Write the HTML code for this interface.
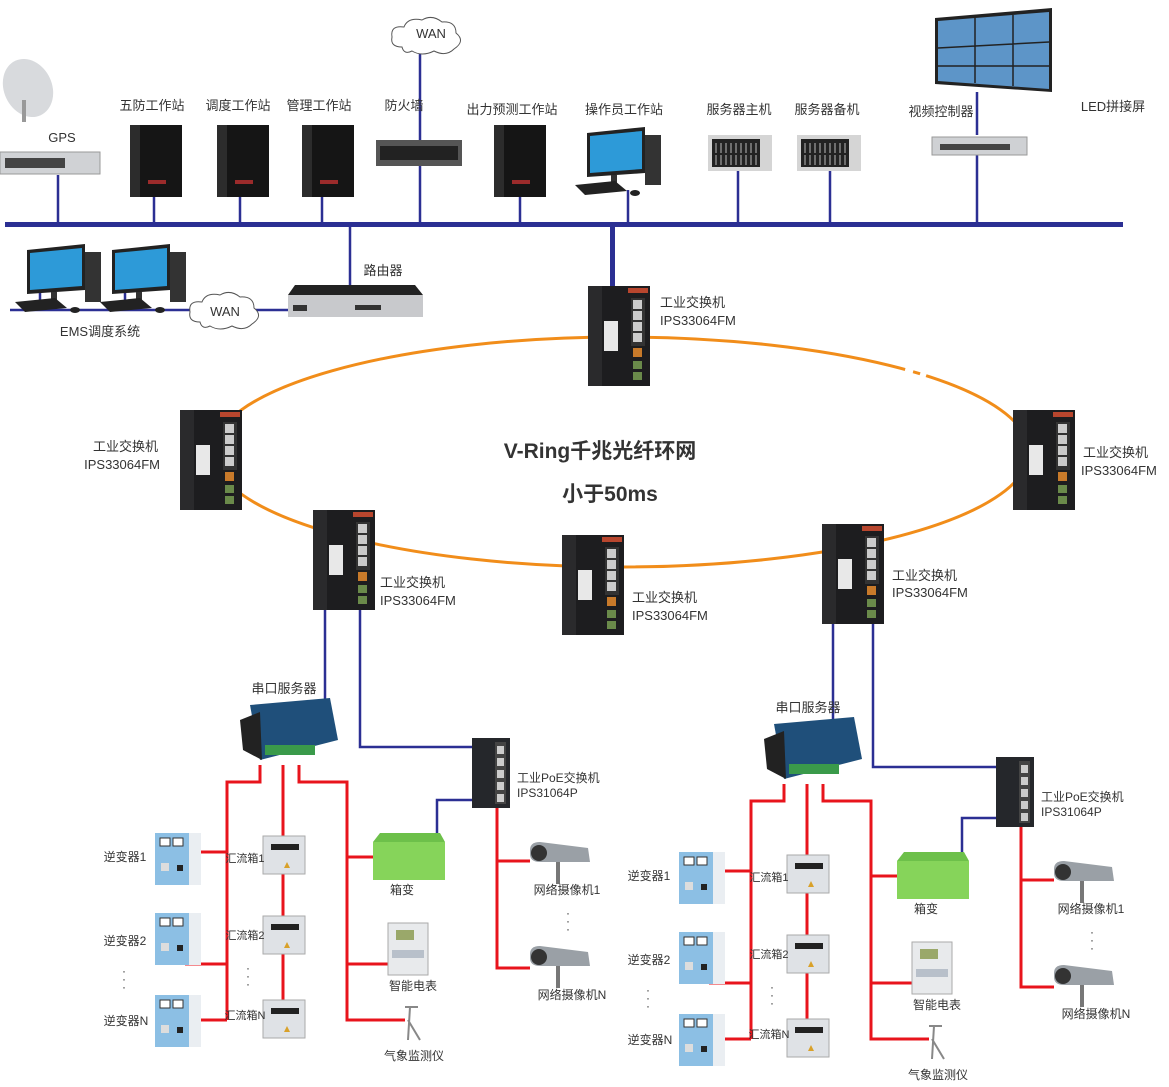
<!DOCTYPE html>
<html><head><meta charset="utf-8"><style>
html,body{margin:0;padding:0;background:#fff;}
svg{display:block;}
text{font-family:"Liberation Sans","Noto Sans CJK SC",sans-serif;font-size:13px;fill:#333;}
.c text{font-size:12px;}
.c text.s{font-size:11px;}
text.big{font-size:21px;font-weight:bold;}
</style></head><body>
<svg width="1169" height="1087" viewBox="0 0 1169 1087" xmlns="http://www.w3.org/2000/svg">
<defs>
<g id="sw">
 <rect x="0" y="0" width="62" height="100" fill="#1d1d1f"/>
 <rect x="0" y="0" width="14" height="100" fill="#2a2a2c"/>
 <rect x="40" y="2" width="20" height="5" fill="#b8462e"/>
 <rect x="43" y="12" width="14" height="48" fill="#333"/>
 <rect x="45" y="14" width="9" height="9" fill="#ccc"/><rect x="45" y="25" width="9" height="9" fill="#ccc"/>
 <rect x="45" y="36" width="9" height="9" fill="#ccc"/><rect x="45" y="47" width="9" height="9" fill="#ccc"/>
 <rect x="45" y="62" width="9" height="9" fill="#c87a2a"/>
 <rect x="45" y="75" width="9" height="8" fill="#6a8a4a"/><rect x="45" y="86" width="9" height="8" fill="#6a8a4a"/>
 <rect x="16" y="35" width="14" height="30" fill="#e8e8e8"/>
</g>
<g id="tower">
 <rect x="0" y="0" width="52" height="72" fill="#151515"/>
 <rect x="0" y="0" width="10" height="72" fill="#2c2c2c"/>
 <rect x="18" y="55" width="18" height="4" fill="#9b2b2b"/>
</g>
<g id="rack">
 <rect x="0" y="0" width="64" height="36" fill="#d5d5d5"/>
 <rect x="4" y="4" width="48" height="28" fill="#222"/>
 <g stroke="#888" stroke-width="1.5"><path d="M8 8v10M13 8v10M18 8v10M23 8v10M28 8v10M33 8v10M38 8v10M43 8v10M48 8v10M8 20v10M13 20v10M18 20v10M23 20v10M28 20v10M33 20v10M38 20v10M43 20v10M48 20v10"/></g>
</g>
<g id="pc">
 <path d="M12 0 L70 -6 L70 40 L12 44 Z" fill="#222"/>
 <path d="M15 3 L67 -2 L67 36 L15 40 Z" fill="#2d9ad8"/>
 <rect x="70" y="2" width="16" height="50" fill="#333"/>
 <rect x="36" y="42" width="6" height="8" fill="#333"/>
 <path d="M0 52 L40 48 L52 58 L10 62 Z" fill="#222"/>
 <ellipse cx="60" cy="60" rx="5" ry="3" fill="#222"/>
</g>
<g id="inv">
 <rect x="0" y="0" width="34" height="52" fill="#8cbfe4"/>
 <rect x="34" y="0" width="12" height="52" fill="#eaeef2"/>
 <rect x="5" y="5" width="10" height="8" fill="#fff" stroke="#333"/><rect x="18" y="5" width="10" height="8" fill="#fff" stroke="#333"/>
 <rect x="6" y="30" width="8" height="8" fill="#ddd"/><rect x="22" y="32" width="6" height="6" fill="#222"/>
</g>
<g id="cb">
 <rect x="0" y="0" width="42" height="38" fill="#dfe2e6"/>
 <rect x="0" y="0" width="42" height="38" fill="none" stroke="#aaa"/>
 <rect x="8" y="8" width="28" height="6" fill="#222"/>
 <path d="M24 26 l3 6 h-6 Z" fill="#d9a12a"/>
</g>
<g id="cam">
 <path d="M0 8 Q0 0 10 0 L58 6 L60 20 L10 20 Q0 20 0 12 Z" fill="#9aa0a6"/>
 <ellipse cx="9" cy="11" rx="8" ry="8" fill="#333"/>
 <rect x="26" y="20" width="4" height="22" fill="#777"/>
</g>
<g id="cloud">
 <path d="M12 30 Q0 30 2 20 Q0 8 14 10 Q18 0 32 3 Q42 -3 52 5 Q66 4 66 16 Q76 24 64 32 Q56 40 44 34 Q32 40 22 34 Q14 38 12 30 Z" fill="#fff" stroke="#555" stroke-width="1"/>
</g>
</defs>

<ellipse cx="621" cy="452" rx="408" ry="115" fill="none" stroke="#f18d1a" stroke-width="3"/>
<path d="M905 370 l8 2 M920 374 l6 2" stroke="#fff" stroke-width="5"/>

<rect x="5" y="222" width="1118" height="5" fill="#2b2f93"/>
<g stroke="#2b2f93" stroke-width="2.5" fill="none">
 <path d="M58 175V224M154 197V224M240 197V224M322 197V224M420 50V140M420 165V224M520 197V224M628 190V224M738 170V224M830 170V224M977 92V135M977 155V224"/>
 <path d="M350 224V290"/>
 <path d="M10 310H190M255 310H290M40 290V310M125 290V310"/>
 <path d="M325 610V702M360 610V747H473M437 850V800H473M833 622V728M873 622V767H997M962 870V818H997"/>
</g>
<rect x="610" y="224" width="5" height="66" fill="#2b2f93"/>

<g>
 <ellipse cx="28" cy="88" rx="24" ry="30" fill="#d8dadd" transform="rotate(-25 28 88)"/>
 <rect x="22" y="100" width="4" height="22" fill="#999"/>
 <rect x="0" y="152" width="100" height="22" fill="#d0d2d5" stroke="#999"/>
 <rect x="5" y="158" width="60" height="10" fill="#444"/>
 <text x="62" y="142" text-anchor="middle">GPS</text>
 <use href="#tower" x="130" y="125"/><text x="152" y="110" text-anchor="middle">五防工作站</text>
 <use href="#tower" x="217" y="125"/><text x="238" y="110" text-anchor="middle">调度工作站</text>
 <use href="#tower" x="302" y="125"/><text x="319" y="110" text-anchor="middle">管理工作站</text>
 <rect x="376" y="140" width="86" height="26" fill="#555"/><rect x="380" y="146" width="78" height="14" fill="#222"/>
 <text x="404" y="110" text-anchor="middle">防火墙</text>
 <use href="#cloud" x="390" y="17"/><text x="431" y="38" text-anchor="middle">WAN</text>
 <use href="#tower" x="494" y="125"/><text x="512" y="114" text-anchor="middle">出力预测工作站</text>
 <use href="#pc" x="575" y="133"/><text x="624" y="114" text-anchor="middle">操作员工作站</text>
 <use href="#rack" x="708" y="135"/><text x="739" y="114" text-anchor="middle">服务器主机</text>
 <use href="#rack" x="797" y="135"/><text x="827" y="114" text-anchor="middle">服务器备机</text>
 <rect x="932" y="137" width="95" height="18" fill="#cfd1d4" stroke="#999"/><rect x="940" y="144" width="70" height="6" fill="#444"/>
 <text x="941" y="116" text-anchor="middle">视频控制器</text>
 <path d="M935 18 L1052 8 L1052 92 L935 84 Z" fill="#222"/>
 <path d="M938 21 L1049 12 L1049 89 L938 81 Z" fill="#5d95c8"/>
 <path d="M975 18V83M1013 15V86M938 48L1049 42M938 66L1049 66" stroke="#222" stroke-width="1.5"/>
 <text x="1113" y="111" text-anchor="middle">LED拼接屏</text>
 <path d="M295 285 L415 285 L423 295 L288 295 Z" fill="#222"/>
 <rect x="288" y="295" width="135" height="22" fill="#c8c9cc"/>
 <rect x="293" y="305" width="14" height="6" fill="#333"/><rect x="355" y="305" width="26" height="5" fill="#333"/>
 <text x="383" y="275" text-anchor="middle">路由器</text>
 <use href="#pc" x="15" y="250"/><use href="#pc" x="100" y="250"/>
 <use href="#cloud" x="188" y="292"/><text x="225" y="316" text-anchor="middle">WAN</text>
 <text x="100" y="336" text-anchor="middle">EMS调度系统</text>
</g>

<use href="#sw" x="588" y="286"/>
<text x="660" y="307">工业交换机</text><text x="660" y="325">IPS33064FM</text>
<use href="#sw" x="180" y="410"/>
<text x="158" y="451" text-anchor="end">工业交换机</text><text x="160" y="469" text-anchor="end">IPS33064FM</text>
<use href="#sw" x="1013" y="410"/>
<text x="1083" y="457">工业交换机</text><text x="1081" y="475">IPS33064FM</text>
<use href="#sw" x="313" y="510"/>
<text x="380" y="587">工业交换机</text><text x="380" y="605">IPS33064FM</text>
<use href="#sw" x="562" y="535"/>
<text x="632" y="602">工业交换机</text><text x="632" y="620">IPS33064FM</text>
<use href="#sw" x="822" y="524"/>
<text x="892" y="580">工业交换机</text><text x="892" y="597">IPS33064FM</text>

<text class="big" x="600" y="458" text-anchor="middle">V-Ring千兆光纤环网</text>
<text class="big" x="610" y="501" text-anchor="middle">小于50ms</text>

<g class="c">
 <g stroke="#e8141c" stroke-width="3" fill="none">
  <path d="M260 765V782H227V1020M185 852H227M185 964H227M185 1020H227"/>
  <path d="M283 765V1000"/>
  <path d="M299 765V782H347V1020H405M347 857H375M347 964H390"/>
  <path d="M497 808V968H530M497 861H530"/>
 </g>
 <path d="M250 705 L330 698 L338 740 L260 760 Z" fill="#1f4f7a"/>
 <path d="M240 720 L260 712 L262 760 L243 750 Z" fill="#222"/>
 <rect x="265" y="745" width="50" height="10" fill="#3a9a4a"/>
 <text x="284" y="693" text-anchor="middle" style="font-size:13px">串口服务器</text>
 <rect x="472" y="738" width="38" height="70" fill="#25272b"/>
 <rect x="495" y="742" width="11" height="62" fill="#444"/>
 <rect x="497" y="746" width="7" height="8" fill="#ccc"/><rect x="497" y="758" width="7" height="8" fill="#ccc"/><rect x="497" y="770" width="7" height="8" fill="#ccc"/><rect x="497" y="782" width="7" height="8" fill="#ccc"/><rect x="497" y="794" width="7" height="8" fill="#ccc"/>
 <text x="517" y="782">工业PoE交换机</text><text x="517" y="797">IPS31064P</text>
 <use href="#inv" x="155" y="833"/><use href="#inv" x="155" y="913"/><use href="#inv" x="155" y="995"/>
 <text x="125" y="861" text-anchor="middle">逆变器1</text><text x="125" y="945" text-anchor="middle">逆变器2</text><text x="126" y="1025" text-anchor="middle">逆变器N</text>
 <text x="124" y="975" text-anchor="middle">·</text><text x="124" y="983" text-anchor="middle">·</text><text x="124" y="991" text-anchor="middle">·</text>
 <use href="#cb" x="263" y="836"/><use href="#cb" x="263" y="916"/><use href="#cb" x="263" y="1000"/>
 <text class="s" x="245" y="862" text-anchor="middle">汇流箱1</text><text class="s" x="245" y="939" text-anchor="middle">汇流箱2</text><text class="s" x="245" y="1019" text-anchor="middle">汇流箱N</text>
 <text x="248" y="972" text-anchor="middle">·</text><text x="248" y="980" text-anchor="middle">·</text><text x="248" y="988" text-anchor="middle">·</text>
 <path d="M373 842 L380 833 L440 833 L445 842 Z" fill="#6dc04a"/>
 <rect x="373" y="842" width="72" height="38" fill="#86d45a"/>
 <text x="402" y="894" text-anchor="middle">箱变</text>
 <rect x="388" y="923" width="40" height="52" fill="#e8eaec" stroke="#aaa"/>
 <rect x="396" y="930" width="18" height="10" fill="#9aa86a"/>
 <rect x="392" y="950" width="32" height="8" fill="#b8c0ca"/>
 <text x="413" y="990" text-anchor="middle">智能电表</text>
 <path d="M405 1007 L418 1007 M410 1007 L408 1040 M408 1020 L420 1040" stroke="#888" stroke-width="2" fill="none"/>
 <text x="414" y="1060" text-anchor="middle">气象监测仪</text>
 <use href="#cam" x="530" y="842"/><use href="#cam" x="530" y="946"/>
 <text x="567" y="894" text-anchor="middle">网络摄像机1</text>
 <text x="568" y="917" text-anchor="middle">·</text><text x="568" y="925" text-anchor="middle">·</text><text x="568" y="933" text-anchor="middle">·</text>
 <text x="572" y="999" text-anchor="middle">网络摄像机N</text>
</g>

<g class="c" transform="translate(524,19)">
 <g stroke="#e8141c" stroke-width="3" fill="none">
  <path d="M260 765V782H227V1020M185 852H227M185 964H227M185 1020H227"/>
  <path d="M283 765V1000"/>
  <path d="M299 765V782H347V1020H405M347 857H375M347 964H390"/>
  <path d="M497 808V968H530M497 861H530"/>
 </g>
 <path d="M250 705 L330 698 L338 740 L260 760 Z" fill="#1f4f7a"/>
 <path d="M240 720 L260 712 L262 760 L243 750 Z" fill="#222"/>
 <rect x="265" y="745" width="50" height="10" fill="#3a9a4a"/>
 <text x="284" y="693" text-anchor="middle" style="font-size:13px">串口服务器</text>
 <rect x="472" y="738" width="38" height="70" fill="#25272b"/>
 <rect x="495" y="742" width="11" height="62" fill="#444"/>
 <rect x="497" y="746" width="7" height="8" fill="#ccc"/><rect x="497" y="758" width="7" height="8" fill="#ccc"/><rect x="497" y="770" width="7" height="8" fill="#ccc"/><rect x="497" y="782" width="7" height="8" fill="#ccc"/><rect x="497" y="794" width="7" height="8" fill="#ccc"/>
 <text x="517" y="782">工业PoE交换机</text><text x="517" y="797">IPS31064P</text>
 <use href="#inv" x="155" y="833"/><use href="#inv" x="155" y="913"/><use href="#inv" x="155" y="995"/>
 <text x="125" y="861" text-anchor="middle">逆变器1</text><text x="125" y="945" text-anchor="middle">逆变器2</text><text x="126" y="1025" text-anchor="middle">逆变器N</text>
 <text x="124" y="975" text-anchor="middle">·</text><text x="124" y="983" text-anchor="middle">·</text><text x="124" y="991" text-anchor="middle">·</text>
 <use href="#cb" x="263" y="836"/><use href="#cb" x="263" y="916"/><use href="#cb" x="263" y="1000"/>
 <text class="s" x="245" y="862" text-anchor="middle">汇流箱1</text><text class="s" x="245" y="939" text-anchor="middle">汇流箱2</text><text class="s" x="245" y="1019" text-anchor="middle">汇流箱N</text>
 <text x="248" y="972" text-anchor="middle">·</text><text x="248" y="980" text-anchor="middle">·</text><text x="248" y="988" text-anchor="middle">·</text>
 <path d="M373 842 L380 833 L440 833 L445 842 Z" fill="#6dc04a"/>
 <rect x="373" y="842" width="72" height="38" fill="#86d45a"/>
 <text x="402" y="894" text-anchor="middle">箱变</text>
 <rect x="388" y="923" width="40" height="52" fill="#e8eaec" stroke="#aaa"/>
 <rect x="396" y="930" width="18" height="10" fill="#9aa86a"/>
 <rect x="392" y="950" width="32" height="8" fill="#b8c0ca"/>
 <text x="413" y="990" text-anchor="middle">智能电表</text>
 <path d="M405 1007 L418 1007 M410 1007 L408 1040 M408 1020 L420 1040" stroke="#888" stroke-width="2" fill="none"/>
 <text x="414" y="1060" text-anchor="middle">气象监测仪</text>
 <use href="#cam" x="530" y="842"/><use href="#cam" x="530" y="946"/>
 <text x="567" y="894" text-anchor="middle">网络摄像机1</text>
 <text x="568" y="917" text-anchor="middle">·</text><text x="568" y="925" text-anchor="middle">·</text><text x="568" y="933" text-anchor="middle">·</text>
 <text x="572" y="999" text-anchor="middle">网络摄像机N</text>
</g>
</svg>
</body></html>
